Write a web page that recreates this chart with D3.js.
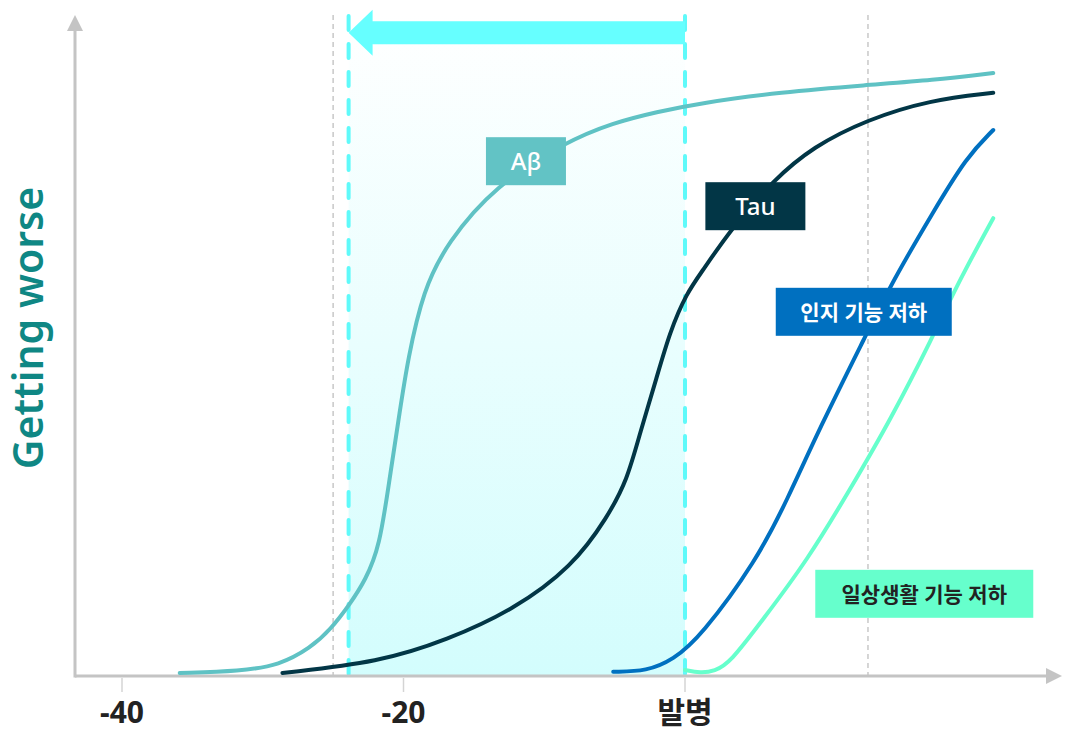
<!DOCTYPE html>
<html>
<head>
<meta charset="utf-8">
<script src="https://cdn.jsdelivr.net/npm/d3@7"></script>
<style>
body { margin: 0; background: #fff; }
svg text { font-family: "Noto Sans", "Noto Sans CJK KR", sans-serif; }
</style>
</head>
<body>
<div id="chart"></div>
<script>
// years relative to onset (0 = 발병), level = how far the marker has progressed
var abYears  = [-35.9, -31.6, -28.8, -26.6, -25.2, -23.8, -22.7, -21.7, -21.0, -20.25, -19.7, -18.6, -16.9, -13.5, -8.5, -5.1, -2.0, 1.1, 6.8, 12.9, 17.6, 21.9];
var abLevels = [0.5, 0.8, 1.8, 4.7, 7.7, 12, 16, 21.5, 32.7, 44.3, 52.7, 64.3, 72.2, 81.7, 89, 92.2, 94, 95.5, 97.3, 98.5, 99.3, 100.5];

var tauYears  = [-28.6, -21.7, -16.9, -12.2, -8.0, -5.5, -4.1, -3.2, -2.0, -1.1, 0.1, 1.3, 3.2, 6.3, 9.1, 12.9, 17.4, 21.9];
var tauLevels = [0.5, 2.3, 6, 11, 18.2, 26.5, 32.7, 40.5, 49.8, 57.2, 63.8, 67.7, 74.3, 82.7, 88.2, 92.7, 96, 97.2];

var cogYears  = [-5.1, -2.7, -0.85, 1.1, 5.1, 7.25, 9.6, 12.9, 14.8, 17.6, 20.0, 21.9];
var cogLevels = [0.7, 0.8, 2.7, 6.5, 19.3, 29.3, 41.5, 57, 66, 77.2, 86.5, 91];

var dailyYears  = [0, 1.1, 2.1, 3.2, 5.5, 8.7, 11.7, 14.6, 17.6, 19.5, 21.9];
var dailyLevels = [1, 0.5, 0.8, 2.2, 9.3, 19.3, 31, 42.7, 56.5, 66, 76.3];

var tickYears  = [-40, -20, 0];
var tickLabels = ["-40", "-20", "발병"];

var guideYears = [-25, 13];        // grey dotted guides
var windowYears = [-23.9, 0];      // highlighted window (cyan)

var labelNames  = ["Aβ", "Tau", "인지 기능 저하", "일상생활 기능 저하"];
var labelYears  = [-11.3, 5.0, 12.7, 17.0];
var labelLevels = [85.8, 78.3, 60.7, 13.7];
var labelWidths = [80, 100, 176, 218];
var labelFills  = ["#62c3c5", "#023646", "#0070c0", "#66ffcc"];
var labelInk    = ["#fff", "#fff", "#fff", "#222"];

var width = 1066, height = 733;

var svg = d3.select("#chart").append("svg")
    .attr("width", width)
    .attr("height", height);

var x = d3.scaleLinear().domain([-40, 0]).range([122, 685]);
var y = d3.scaleLinear().domain([0, 100]).range([676, 76]);

var xMin = x.invert(75), xMax = x.invert(1062);
var yTop = y.invert(15);

// gradient for the highlighted window
var defs = svg.append("defs");
var grad = defs.append("linearGradient")
    .attr("id", "winGrad")
    .attr("x1", 0).attr("y1", 0).attr("x2", 0).attr("y2", 1);
grad.append("stop").attr("offset", "0%").attr("stop-color", "#ffffff");
grad.append("stop").attr("offset", "100%").attr("stop-color", "#d3fdfd");

svg.append("rect")
    .attr("x", x(windowYears[0]))
    .attr("y", y(yTop))
    .attr("width", x(windowYears[1]) - x(windowYears[0]))
    .attr("height", y(0) - y(yTop))
    .attr("fill", "url(#winGrad)");

// grey guides
svg.selectAll(".guide").data(guideYears).enter().append("line")
    .attr("class", "guide")
    .attr("x1", d => x(d)).attr("x2", d => x(d))
    .attr("y1", y(yTop)).attr("y2", y(0))
    .attr("stroke", "#c8c8c8")
    .attr("stroke-width", 1.5)
    .attr("stroke-dasharray", "5,4");

// cyan window edges
svg.selectAll(".edge").data(windowYears).enter().append("line")
    .attr("class", "edge")
    .attr("x1", d => x(d)).attr("x2", d => x(d))
    .attr("y1", y(yTop) + 1).attr("y2", y(0))
    .attr("stroke", "#5ffafa")
    .attr("stroke-width", 4)
    .attr("stroke-linecap", "round")
    .attr("stroke-dasharray", "14,14");

// big arrow pointing back in time
var arrowY = y(107.2);
var ax0 = x(windowYears[1]), ax1 = x(windowYears[0]);
svg.append("path")
    .attr("d", "M" + ax0 + "," + (arrowY - 11.5) +
               "L" + (ax1 + 24) + "," + (arrowY - 11.5) +
               "L" + (ax1 + 24) + "," + (arrowY - 23) +
               "L" + ax1 + "," + arrowY +
               "L" + (ax1 + 24) + "," + (arrowY + 23) +
               "L" + (ax1 + 24) + "," + (arrowY + 11.5) +
               "L" + ax0 + "," + (arrowY + 11.5) + "Z")
    .attr("fill", "#66ffff");

// axes
var axisColor = "#c4c4c4";
svg.append("line")
    .attr("x1", x(xMin)).attr("x2", x(xMax) - 12)
    .attr("y1", y(0)).attr("y2", y(0))
    .attr("stroke", axisColor).attr("stroke-width", 3);
svg.append("path")
    .attr("d", "M" + x(xMax) + "," + y(0) + "l-16,-8 l0,16 Z")
    .attr("fill", axisColor);
svg.append("line")
    .attr("x1", x(xMin)).attr("x2", x(xMin))
    .attr("y1", y(0) + 1.5).attr("y2", y(yTop) + 12)
    .attr("stroke", axisColor).attr("stroke-width", 3);
svg.append("path")
    .attr("d", "M" + x(xMin) + "," + y(yTop) + "l-8,16 l16,0 Z")
    .attr("fill", axisColor);

// ticks + labels
svg.selectAll(".tick").data(tickYears).enter().append("line")
    .attr("x1", d => x(d)).attr("x2", d => x(d))
    .attr("y1", y(0) + 2).attr("y2", y(0) + 16)
    .attr("stroke", "#d4d4d4").attr("stroke-width", 1.5);
svg.selectAll(".tlab").data(tickYears).enter().append("text")
    .attr("x", d => x(d))
    .attr("y", 723)
    .attr("text-anchor", "middle")
    .attr("font-size", 30)
    .attr("font-weight", 700)
    .attr("fill", "#222")
    .text((d, i) => tickLabels[i]);

// y title
svg.append("text")
    .attr("transform", "translate(43,328) rotate(-90)")
    .attr("text-anchor", "middle")
    .attr("font-size", 41)
    .attr("font-weight", 600)
    .attr("fill", "#0f8784")
    .text("Getting worse");

// curves
var line = d3.line()
    .x(d => x(d[0]))
    .y(d => y(d[1]))
    .curve(d3.curveBasis);

function drawCurve(years, levels, color) {
    var pts = years.map((d, i) => [d, levels[i]]);
    svg.append("path")
        .datum(pts)
        .attr("d", line)
        .attr("fill", "none")
        .attr("stroke", color)
        .attr("stroke-width", 4)
        .attr("stroke-linecap", "round");
}
drawCurve(abYears, abLevels, "#5fc2c4");
drawCurve(tauYears, tauLevels, "#023646");
drawCurve(cogYears, cogLevels, "#0070c0");
drawCurve(dailyYears, dailyLevels, "#66ffcc");

// label boxes
for (var i = 0; i < labelNames.length; i++) {
    var cx = x(labelYears[i]), cy = y(labelLevels[i]);
    svg.append("rect")
        .attr("x", cx - labelWidths[i] / 2)
        .attr("y", cy - 24)
        .attr("width", labelWidths[i])
        .attr("height", 48)
        .attr("fill", labelFills[i]);
    svg.append("text")
        .attr("x", cx)
        .attr("y", cy + (i < 2 ? 9 : 8))
        .attr("text-anchor", "middle")
        .attr("font-size", i < 2 ? 24 : 21)
        .attr("font-weight", i < 2 ? 500 : 700)
        .attr("fill", labelInk[i])
        .text(labelNames[i]);
}
</script>
</body>
</html>
